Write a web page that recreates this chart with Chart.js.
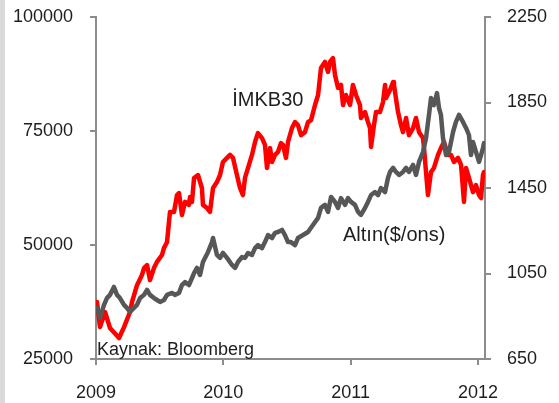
<!DOCTYPE html>
<html>
<head>
<meta charset="utf-8">
<script src="https://cdn.jsdelivr.net/npm/chart.js@4"></script>
<style>
  html, body { margin: 0; padding: 0; background: #fff; }
  #strip { position: absolute; left: 0; top: 0; width: 5px; height: 403px; background: #dadada; }
  #wrap { position: absolute; left: 0; top: 0; width: 559px; height: 403px; }
</style>
</head>
<body>
<div id="strip"></div>
<div id="wrap"><canvas id="chart" width="559" height="403"></canvas></div>
<script>
// IMKB30 index (left axis)
const imkbYears = [2009.008, 2009.031, 2009.071, 2009.110, 2009.181, 2009.220, 2009.267, 2009.283, 2009.322, 2009.361,
  2009.377, 2009.401, 2009.424, 2009.456, 2009.479, 2009.518, 2009.534, 2009.558, 2009.573, 2009.581,
  2009.613, 2009.636, 2009.652, 2009.675, 2009.699, 2009.730, 2009.738, 2009.754, 2009.770, 2009.801,
  2009.832, 2009.840, 2009.872, 2009.895, 2009.919, 2009.950, 2009.974, 2009.997, 2010.029, 2010.052,
  2010.076, 2010.107, 2010.131, 2010.154, 2010.170, 2010.194, 2010.225, 2010.249, 2010.272, 2010.304,
  2010.327, 2010.343, 2010.367, 2010.382, 2010.406, 2010.429, 2010.453, 2010.469, 2010.492, 2010.508,
  2010.539, 2010.563, 2010.586, 2010.610, 2010.641, 2010.665, 2010.689, 2010.720, 2010.744, 2010.767,
  2010.798, 2010.822, 2010.838, 2010.861, 2010.877, 2010.901, 2010.924, 2010.940, 2010.963, 2010.995,
  2011.018, 2011.042, 2011.073, 2011.081, 2011.113, 2011.136, 2011.152, 2011.160, 2011.183, 2011.199,
  2011.230, 2011.254, 2011.270, 2011.278, 2011.309, 2011.333, 2011.340, 2011.372, 2011.395, 2011.411,
  2011.435, 2011.458, 2011.490, 2011.513, 2011.537, 2011.568, 2011.576, 2011.607, 2011.631, 2011.654,
  2011.686, 2011.709, 2011.733, 2011.764, 2011.788, 2011.812, 2011.843, 2011.867, 2011.890, 2011.906,
  2011.929, 2011.961, 2011.984, 2012.008, 2012.024, 2012.039, 2012.047];
const imkbValues = [37500, 32000, 35300, 31800, 29600, 32000, 35300, 37500, 41200, 43400,
  44950, 45600, 42300, 45000, 46300, 47800, 49350, 50650, 55050, 57250,
  57250, 60950, 61400, 56600, 59450, 58800, 60500, 59450, 64700, 65350,
  62500, 58800, 58100, 57250, 62500, 63800, 65350, 68200, 69100, 69750,
  69100, 65350, 62500, 60950, 64700, 66900, 69750, 72600, 74550, 73450,
  71950, 66900, 71250, 68200, 69750, 70400, 72350, 71950, 69100, 72600,
  75650, 76950, 76300, 74100, 74750, 76950, 77400, 80700, 82900, 88800,
  90150, 87950, 90150, 91000, 87300, 84450, 85100, 80700, 82900, 80700,
  85100, 82900, 80700, 77850, 79150, 76950, 75650, 71500, 76300, 79150,
  79150, 81350, 85100, 82250, 84000, 85750, 85100, 79150, 76300, 74750,
  77850, 74100, 75650, 77850, 74750, 73450, 71250, 60950, 66000, 66900,
  69750, 71250, 72600, 69750, 69750, 68200, 69100, 67550, 59450, 66900,
  64700, 61600, 63150, 60950, 60300, 65350, 66000];

// Gold, $/ounce (right axis)
const goldYears = [2009.008, 2009.031, 2009.063, 2009.086, 2009.110, 2009.141, 2009.165, 2009.188, 2009.220, 2009.243,
  2009.267, 2009.298, 2009.322, 2009.346, 2009.377, 2009.401, 2009.424, 2009.456, 2009.479, 2009.503,
  2009.534, 2009.558, 2009.597, 2009.620, 2009.652, 2009.675, 2009.699, 2009.730, 2009.754, 2009.770,
  2009.793, 2009.817, 2009.840, 2009.880, 2009.911, 2009.919, 2009.950, 2009.974, 2009.997, 2010.029,
  2010.068, 2010.092, 2010.115, 2010.147, 2010.170, 2010.194, 2010.225, 2010.249, 2010.272, 2010.304,
  2010.327, 2010.351, 2010.382, 2010.406, 2010.429, 2010.461, 2010.484, 2010.508, 2010.531, 2010.563,
  2010.586, 2010.626, 2010.665, 2010.704, 2010.744, 2010.767, 2010.798, 2010.822, 2010.846, 2010.877,
  2010.901, 2010.924, 2010.956, 2010.979, 2011.003, 2011.034, 2011.058, 2011.081, 2011.113, 2011.136,
  2011.160, 2011.191, 2011.215, 2011.238, 2011.270, 2011.293, 2011.309, 2011.333, 2011.356, 2011.380,
  2011.411, 2011.435, 2011.458, 2011.490, 2011.513, 2011.537, 2011.568, 2011.592, 2011.615, 2011.631,
  2011.654, 2011.678, 2011.694, 2011.709, 2011.725, 2011.749, 2011.772, 2011.804, 2011.827, 2011.851,
  2011.882, 2011.906, 2011.929, 2011.945, 2011.961, 2011.992, 2012.008, 2012.024, 2012.039, 2012.047];
const goldValues = [889, 842, 903, 935, 950, 987, 950, 935, 903, 889,
  870, 889, 903, 935, 950, 973, 950, 935, 926, 917,
  926, 950, 959, 950, 959, 996, 1010, 996, 1029, 1052,
  1076, 1043, 1104, 1151, 1197, 1216, 1137, 1123, 1146, 1123,
  1090, 1076, 1104, 1127, 1123, 1146, 1137, 1169, 1183, 1169,
  1197, 1230, 1216, 1240, 1244, 1254, 1230, 1197, 1197, 1183,
  1216, 1230, 1244, 1277, 1310, 1357, 1371, 1338, 1408, 1385,
  1357, 1403, 1371, 1403, 1385, 1371, 1338, 1324, 1357, 1385,
  1417, 1431, 1417, 1450, 1431, 1497, 1525, 1544, 1525, 1511,
  1525, 1544, 1525, 1558, 1511, 1572, 1618, 1684, 1792, 1871,
  1838, 1894, 1824, 1792, 1684, 1604, 1618, 1712, 1759, 1792,
  1759, 1731, 1698, 1604, 1665, 1604, 1572, 1604, 1637, 1660];

const xTicks = [2009, 2010, 2011, 2012];
const leftTicks = [25000, 50000, 75000, 100000];
const rightTicks = [650, 1050, 1450, 1850, 2250];

const axisColor = '#8c8c8c';
const textColor = '#1e1e1e';
const fontFamily = '"Liberation Sans", Arial, sans-serif';

function pairs(xs, ys) {
    return xs.map((x, i) => ({ x: x, y: ys[i] }));
}

function axisBase(ticks) {
    return {
        afterBuildTicks: function (s) { s.ticks = ticks.map(v => ({ value: v })); },
        grid: { drawOnChartArea: false, drawTicks: true, tickLength: 6, color: axisColor, lineWidth: 2 },
        border: { display: true, color: axisColor, width: 2 },
        ticks: {
            color: textColor,
            font: { family: fontFamily, size: 18 },
            autoSkip: false,
            maxRotation: 0,
            callback: v => String(v)
        }
    };
}

// fixed box sizes; drop the label overhang padding so the plot fills the frame
function fixSize(w, h) {
    return function (s) {
        if (w) s.width = w;
        if (h) s.height = h;
        s.paddingTop = 0;
        s.paddingBottom = 0;
        s.paddingLeft = 0;
        s.paddingRight = 0;
    };
}

// free text on the plot: source note and series names
const notesPlugin = {
    id: 'notes',
    afterDatasetsDraw(chart) {
        const ctx = chart.ctx;
        const x = chart.scales.x, yl = chart.scales.yL, yr = chart.scales.yR;
        ctx.save();
        ctx.fillStyle = textColor;
        ctx.textAlign = 'left';
        ctx.textBaseline = 'alphabetic';
        ctx.font = '20px ' + fontFamily;
        ctx.fillText('İMKB30', x.getPixelForValue(2010.07), yl.getPixelForValue(80500));
        ctx.fillText('Altın($/ons)', x.getPixelForValue(2010.94), yr.getPixelForValue(1202));
        ctx.font = '18px ' + fontFamily;
        ctx.fillText('Kaynak: Bloomberg', x.getPixelForValue(2009.008), yl.getPixelForValue(25900));
        ctx.restore();
    }
};

const xAxis = axisBase(xTicks);
xAxis.type = 'linear';
xAxis.position = 'bottom';
xAxis.min = 2009;
xAxis.max = 2012.055;
xAxis.ticks.padding = 17;
xAxis.afterFit = fixSize(0, 44);

const yLeft = axisBase(leftTicks);
yLeft.position = 'left';
yLeft.min = 25000;
yLeft.max = 100000;
yLeft.ticks.padding = 17;
yLeft.afterFit = fixSize(96, 0);

const yRight = axisBase(rightTicks);
yRight.position = 'right';
yRight.min = 650;
yRight.max = 2250;
yRight.ticks.padding = 16;
yRight.afterFit = fixSize(74, 0);

new Chart(document.getElementById('chart').getContext('2d'), {
    type: 'line',
    data: {
        datasets: [
            {
                label: 'İMKB30', data: pairs(imkbYears, imkbValues), yAxisID: 'yL',
                borderColor: '#ff0000', borderWidth: 4.5, pointRadius: 0, tension: 0,
                borderJoinStyle: 'round', borderCapStyle: 'round', order: 2
            },
            {
                label: 'Altın($/ons)', data: pairs(goldYears, goldValues), yAxisID: 'yR',
                borderColor: '#575757', borderWidth: 4.5, pointRadius: 0, tension: 0,
                borderJoinStyle: 'round', borderCapStyle: 'round', order: 1
            }
        ]
    },
    options: {
        responsive: false,
        animation: false,
        layout: { padding: { top: 17, left: 0, right: 0, bottom: 0 } },
        plugins: { legend: { display: false }, tooltip: { enabled: false } },
        scales: { x: xAxis, yL: yLeft, yR: yRight }
    },
    plugins: [notesPlugin]
});
</script>
</body>
</html>
